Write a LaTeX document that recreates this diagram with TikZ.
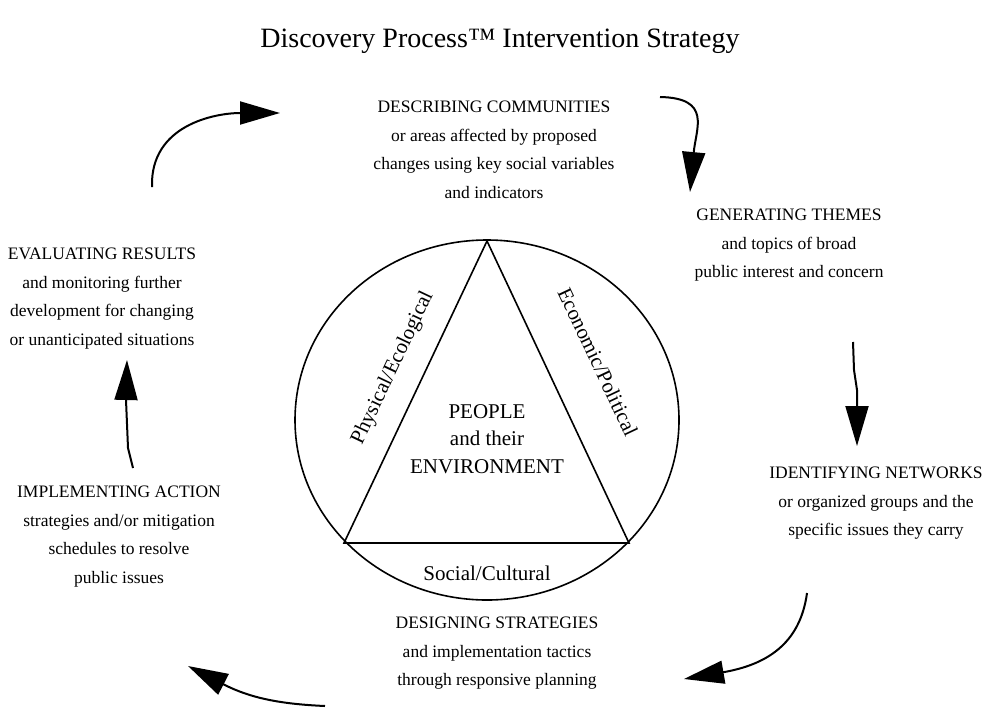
\documentclass[tikz,border=0pt]{standalone}
\usepackage{fontspec}
\setmainfont{Liberation Serif}
\usetikzlibrary{arrows.meta}
\begin{document}
\begin{tikzpicture}[x=1pt,y=-1pt,
  lbl/.style={font=\fontsize{17.5}{28.5}\selectfont, align=center, inner sep=0pt, anchor=north},
  core/.style={font=\fontsize{21}{27.5}\selectfont, align=center, inner sep=0pt, anchor=north},
  side/.style={font=\fontsize{21}{25}\selectfont, inner sep=0pt},
  flow/.style={line width=2pt, -{Triangle[length=40pt,width=23pt]}},
  outline/.style={line width=1.6pt}]
\useasboundingbox (0,0) rectangle (1000,723);

% title
\node[font=\fontsize{28}{34}\selectfont, inner sep=0pt, anchor=base] (title) at (500,47)
  {Discovery Process™ Intervention Strategy};

% central ring and triangle
\coordinate (ctr) at (487,420);
\draw[outline] (ctr) ellipse [x radius=192, y radius=180];
\coordinate (apex) at (487,241);
\coordinate (bl) at (344,543);
\coordinate (br) at (629,543);
\draw[outline, line join=miter] (apex) -- (br) -- (bl) -- cycle;

\node[core] (people) at (487,404) {PEOPLE\\and their\\ENVIRONMENT};
\node[side, rotate=64.7] (phys) at (393,368) {Physical/Ecological};
\node[side, rotate=-64.7] (econ) at (598,362) {Economic/Political};
\node[side, anchor=base] (soc) at (487,580) {Social/Cultural};

% the six steps
\node[lbl] (describe) at (494,101) {DESCRIBING COMMUNITIES\\or areas affected by proposed\\changes using key social variables\\and indicators};
\node[lbl] (generate) at (789,209) {GENERATING THEMES\\and topics of broad\\public interest and concern};
\node[lbl] (identify) at (876,467) {IDENTIFYING NETWORKS\\or organized groups and the\\specific issues they carry};
\node[lbl] (design) at (497,617) {DESIGNING STRATEGIES\\and implementation tactics\\through responsive planning};
\node[lbl] (implement) at (119,486) {IMPLEMENTING ACTION\\strategies and/or mitigation\\schedules to resolve\\public issues};
\node[lbl] (evaluate) at (102,248) {EVALUATING RESULTS\\and monitoring further\\development for changing\\or unanticipated situations};

% cycle arrows
\coordinate (a1s) at (152,187);  \coordinate (a1e) at (280,113);
\coordinate (a2s) at (660,97);   \coordinate (a2e) at (690,192);
\coordinate (a3s) at (853,342);  \coordinate (a3e) at (857,446);
\coordinate (a4s) at (807,593);  \coordinate (a4e) at (684,679);
\coordinate (a5s) at (325,706);  \coordinate (a5e) at (188,666);
\coordinate (a6s) at (133,468);  \coordinate (a6e) at (127,360);

\draw[flow] (a1s) .. controls (150,125) and (215,113) .. (a1e);
\draw[flow] (a2s) .. controls (712,98) and (696,128) .. (a2e);
\draw[flow] (a3s) -- (854,370) -- (857,390) -- (a3e);
\draw[flow] (a4s) .. controls (800,645) and (765,665) .. (a4e);
\draw[flow] (a5s) .. controls (280,704) and (250,698) .. (a5e);
\draw[flow] (a6s) -- (128,448) -- (126,400) -- (a6e);
\end{tikzpicture}
\end{document}
